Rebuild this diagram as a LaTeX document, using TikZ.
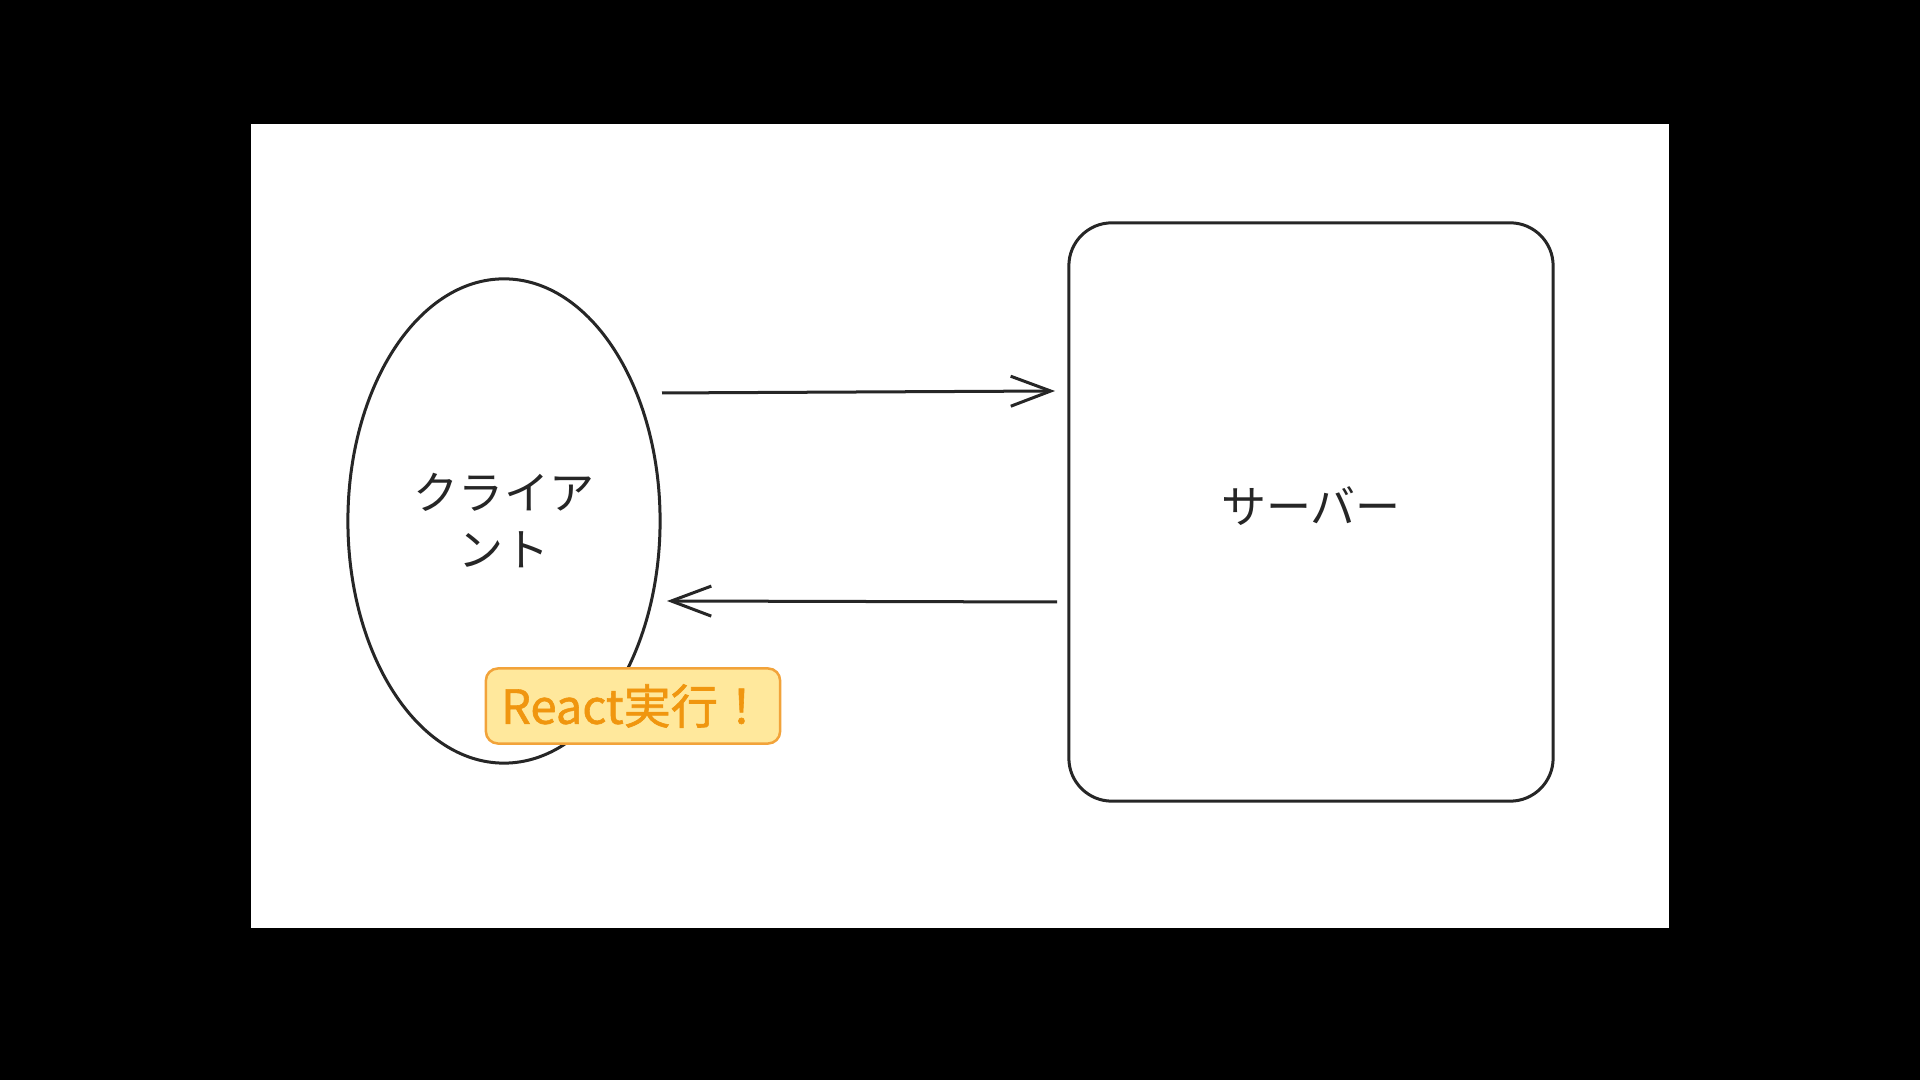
\documentclass[tikz,border=0pt]{standalone}
\usepackage{fontspec}
\setmainfont{Noto Sans CJK JP}
\newfontfamily\labelfont[FakeBold=1.2]{Noto Sans CJK JP}
\usetikzlibrary{shapes.geometric,arrows.meta}
\definecolor{labelfill}{HTML}{FFE89C}
\definecolor{labeldraw}{HTML}{F2A33A}
\definecolor{labeltext}{HTML}{F0960F}
\tikzset{
  outline/.style={draw=black!85,line width=0.03cm},
  flow/.style={outline,-{Straight Barb[length=0.4cm,width=0.3cm,line width=0.03cm]}},
  txt/.style={font=\fontsize{12.8}{16.2}\selectfont,text=black!85}
}
\begin{document}
\begin{tikzpicture}[x=0.01cm,y=-0.01cm]
  % Frame
  \fill[black] (0,0) rectangle (1920,1080);
  \fill[white] (251,124) rectangle (1669,928);
  % Client
  \node[outline,ellipse,minimum width=3.12cm,minimum height=4.84cm,inner sep=0pt,
    txt,align=center] (client) at (504,521) {クライア\\ント};
  % Server
  \node[outline,rectangle,rounded corners=0.43cm,minimum width=4.84cm,minimum height=5.78cm,
    txt,text depth=0.14cm] (server) at (1311,512) {サーバー};
  % Arrows
  \coordinate (reqA) at (662,393);
  \coordinate (reqB) at (1055,391);
  \coordinate (resA) at (1057,602);
  \coordinate (resB) at (667,601);
  \draw[flow] (reqA) -- (reqB);
  \draw[flow] (resA) -- (resB);
  % Label
  \node[draw=labeldraw,fill=labelfill,line width=0.025cm,rounded corners=0.12cm,
    minimum width=2.94cm,minimum height=0.75cm,inner sep=0pt,
    font=\labelfont\fontsize{13.4}{15}\selectfont,text=labeltext] (react) at (633,706) {React実行！};
\end{tikzpicture}
\end{document}
